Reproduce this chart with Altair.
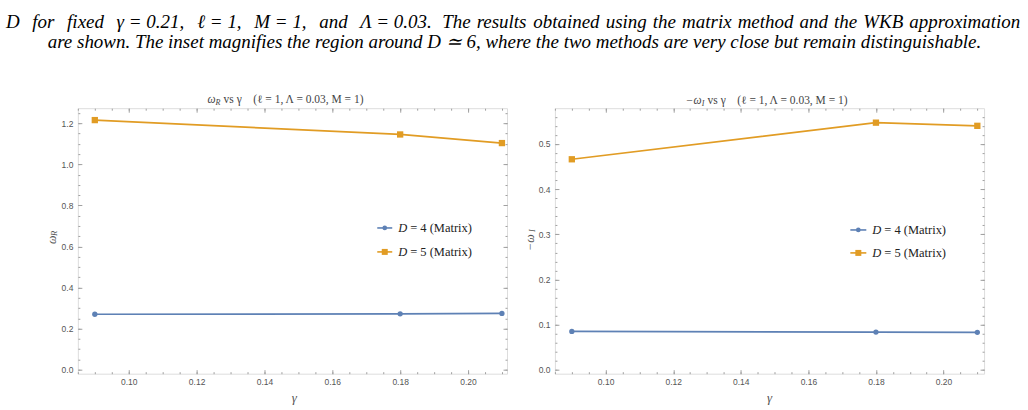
import altair as alt
import pandas as pd

# ---------------- data ----------------
gamma = [0.09, 0.18, 0.21]
omega_R_D4 = [0.270, 0.272, 0.274]
omega_R_D5 = [1.216, 1.146, 1.104]
omega_I_D4 = [0.0852, 0.0839, 0.0832]
omega_I_D5 = [0.466, 0.547, 0.540]
series_names = ["D = 4 (Matrix)", "D = 5 (Matrix)"]
colors = ["#5E81B5", "#E19C24"]

x_major = [0.10, 0.12, 0.14, 0.16, 0.18, 0.20]
x_minor = [round(0.085 + 0.005 * i, 3) for i in range(26)]
yR_major = [0.0, 0.2, 0.4, 0.6, 0.8, 1.0, 1.2]
yR_minor = [round(0.05 * i, 2) for i in range(26)]
yI_major = [0.0, 0.1, 0.2, 0.3, 0.4, 0.5]
yI_minor = [round(0.02 * i, 2) for i in range(29)]

NB = "\u00a0"
# caption line 2 (justified): words of the two halves
caption2_a = ["D", "for", "fixed", "γ = 0.21,", "ℓ = 1,", "M = 1,", "and", "Λ = 0.03."]
caption2_b = ["The", "results", "obtained", "using", "the", "matrix", "method",
              "and", "the", "WKB", "approximation"]
caption3 = "are shown. The inset magnifies the region around D ≃ 6, where the two methods are very close but remain distinguishable."
title_rest = "vs γ" + NB * 4 + "(ℓ = 1, Λ = 0.03, M = 1)"

W, H = 430, 266
FRAME = "#a0a0a0"
LAB = "#555555"
SERIF = "Liberation Serif"
SANS = "Liberation Sans"
CAP = 19

# approximate Times-Italic advance widths (1/1000 em) used only to justify line 2
ADV = {"D": 722, "f": 278, "o": 500, "r": 389, "i": 278, "x": 444, "e": 444,
       "d": 500, "γ": 410, " ": 250, "=": 675, "0": 500, "1": 500, "2": 500,
       "3": 500, ".": 250, ",": 250, "ℓ": 420, "M": 833, "a": 500, "n": 500,
       "Λ": 611, "T": 556, "h": 500, "s": 389, "u": 500, "l": 278, "t": 278,
       "b": 500, "g": 500, "m": 722, "W": 833, "K": 667, "B": 611, "p": 500}


def adv(word):
    return sum(ADV.get(c, 500) for c in word) * CAP / 1000.0


def justify(words, x0, x1):
    widths = [adv(w) for w in words]
    gap = (x1 - x0 - sum(widths)) / (len(words) - 1)
    out, x = [], x0
    for w, wd in zip(words, widths):
        out.append((w, x))
        x += wd + gap
    return out


dummy = pd.DataFrame({"k": [0]})


def txt(s, x, y, size, style="normal", align="left", angle=0, color="#222222",
        baseline="alphabetic", font=SERIF):
    return alt.Chart(dummy).mark_text(
        text=s, font=font, fontSize=size, fontStyle=style, align=align,
        baseline=baseline, angle=angle, color=color
    ).encode(x=alt.value(x), y=alt.value(y))


def tick_axis(orient, offset, values, size):
    return alt.Axis(orient=orient, offset=offset, values=values, labels=False,
                    domain=False, ticks=True, tickSize=size, tickColor=FRAME,
                    tickWidth=1, grid=False, title=None)


def panel(d4, d5, xdom, ydom, ymaj, ymin, extra):
    df = pd.DataFrame({
        "gamma": gamma + gamma,
        "val": d4 + d5,
        "series": [series_names[0]] * 3 + [series_names[1]] * 3,
    })
    xs = alt.Scale(domain=xdom, nice=False, zero=False)
    ys = alt.Scale(domain=ydom, nice=False, zero=False)

    def X(axis):
        return alt.X("gamma:Q", scale=xs, axis=axis)

    def Y(axis):
        return alt.Y("val:Q", scale=ys, axis=axis)

    lab_x = alt.Axis(orient="bottom", values=x_major, format=".2f", ticks=False,
                     domain=False, grid=False, title=None, labelFont=SANS,
                     labelFontSize=8.5, labelColor=LAB, labelPadding=4,
                     labelFlush=False)
    lab_y = alt.Axis(orient="left", values=ymaj, format=".1f", ticks=False,
                     domain=False, grid=False, title=None, labelFont=SANS,
                     labelFontSize=8.5, labelColor=LAB, labelPadding=5,
                     labelFlush=False)

    lines = alt.Chart(df).mark_line(strokeWidth=1.7).encode(
        x=X(lab_x), y=Y(lab_y),
        color=alt.Color("series:N", scale=alt.Scale(domain=series_names, range=colors), legend=None),
    )
    p4 = alt.Chart(df).transform_filter(alt.datum.series == series_names[0]).mark_point(
        filled=True, shape="circle", size=28, opacity=1, color=colors[0]
    ).encode(x=X(tick_axis("top", -H, x_major, 4)), y=Y(tick_axis("right", -W, ymaj, 4)))
    p5 = alt.Chart(df).transform_filter(alt.datum.series == series_names[1]).mark_point(
        filled=True, shape="square", size=40, opacity=1, color=colors[1]
    ).encode(x=X(tick_axis("top", -H, x_minor, 2)), y=Y(tick_axis("right", -W, ymin, 2)))
    inv1 = alt.Chart(df).mark_point(opacity=0).encode(
        x=X(tick_axis("bottom", -H, x_major, 4)), y=Y(tick_axis("left", -W, ymaj, 4)))
    inv2 = alt.Chart(df).mark_point(opacity=0).encode(
        x=X(tick_axis("bottom", -H, x_minor, 2)), y=Y(tick_axis("left", -W, ymin, 2)))

    return alt.layer(lines, p4, p5, inv1, inv2, *extra).resolve_axis(
        x="independent", y="independent"
    ).properties(width=W, height=H)


def legend_items(lx0, lx1, tx, rows):
    out = []
    for (yy, col, shp, sz, name) in rows:
        out.append(alt.Chart(dummy).mark_rule(color=col, strokeWidth=1.6).encode(
            x=alt.value(lx0), x2=alt.value(lx1), y=alt.value(yy)))
        out.append(alt.Chart(dummy).mark_point(filled=True, shape=shp, size=sz, opacity=1, color=col).encode(
            x=alt.value((lx0 + lx1) / 2), y=alt.value(yy)))
        out.append(txt("D", tx, yy + 4, 12.5, style="italic", color="#222222"))
        out.append(txt(name[2:].replace(" ", NB, 2), tx + 12, yy + 4, 12.5, color="#222222"))
    return out


# invisible rectangle that fixes the page frame (relative to left plot origin 77,107)
frame_rect = alt.Chart(dummy).mark_rect(opacity=0).encode(
    x=alt.value(-77), x2=alt.value(951), y=alt.value(-137), y2=alt.value(303))

left_extra = [frame_rect]
for w, xx in justify(caption2_a, -72, 355) + justify(caption2_b, 365, 945):
    left_extra.append(txt(w, xx, -80.5, CAP, style="italic", color="#000000"))
left_extra += [
    txt(caption3, 437.5, -60, CAP, style="italic", align="center", color="#000000"),
    # panel title
    txt("ω", 130, -5, 11.5, style="italic", color="#444444"),
    txt("R", 138, -3, 8, style="italic", color="#444444"),
    txt(title_rest, 146, -5, 11.5, color="#444444"),
    # axis titles
    txt("γ", 217, 294, 13, style="italic", color="#555555", align="center"),
    txt("ω", -26, 136, 12, style="italic", color="#555555", angle=270, baseline="middle"),
    txt("R", -23.5, 128, 8.5, style="italic", color="#555555", angle=270, baseline="middle"),
] + legend_items(300, 315, 321, [
    (120, colors[0], "circle", 22, series_names[0]),
    (144, colors[1], "square", 36, series_names[1]),
])

right_extra = [
    txt("−ω", 131, -4, 11.5, style="italic", color="#444444"),
    txt("I", 147, -2, 8, style="italic", color="#444444"),
    txt(title_rest, 153, -4, 11.5, color="#444444"),
    txt("γ", 215, 294, 13, style="italic", color="#555555", align="center"),
    txt("−ω", -25, 143, 12, style="italic", color="#555555", angle=270, baseline="middle"),
    txt("I", -22.5, 124, 8.5, style="italic", color="#555555", angle=270, baseline="middle"),
] + legend_items(296, 312, 318, [
    (122, colors[0], "circle", 22, series_names[0]),
    (145, colors[1], "square", 36, series_names[1]),
])

left = panel(omega_R_D4, omega_R_D5, [0.085, 0.2115], [-0.0195, 1.274], yR_major, yR_minor, left_extra)
right = panel(omega_I_D4, omega_I_D5, [0.085, 0.212], [-0.0082, 0.579], yI_major, yI_minor, right_extra)

chart = alt.hconcat(left, right, spacing=48, bounds="flush").properties(
    padding={"left": 0, "top": -30, "right": 0, "bottom": 0}
).configure_view(stroke=FRAME, strokeWidth=1).configure(background="white")

chart.save("out.html", embed_options={"renderer": "svg", "actions": False})
